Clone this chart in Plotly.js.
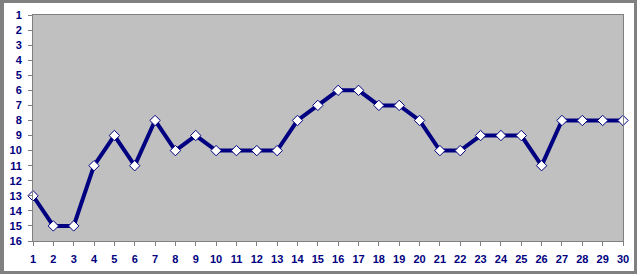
<!DOCTYPE html>
<html>
<head>
<meta charset="utf-8">
<script src="https://cdn.plot.ly/plotly-3.0.1.min.js"></script>
<style>
  html, body { margin: 0; padding: 0; background: #ffffff; }
  #wrap { position: relative; width: 640px; height: 276px; }
  #chart { position: absolute; left: 0; top: 0; width: 640px; height: 276px; }
  #frame { position: absolute; left: 0; top: 0; width: 637px; height: 274px;
           box-sizing: border-box; border: 3px solid #808080; border-left-width: 4px;
           pointer-events: none; }
</style>
</head>
<body>
<div id="wrap">
  <div id="chart"></div>
  <div id="frame"></div>
</div>
<script>
const positions = [1,2,3,4,5,6,7,8,9,10,11,12,13,14,15,16,17,18,19,20,21,22,23,24,25,26,27,28,29,30];
const ranks = [13,15,15,11,9,11,8,10,9,10,10,10,10,8,7,6,6,7,7,8,10,10,9,9,9,11,8,8,8,8];
const yTicks = [1,2,3,4,5,6,7,8,9,10,11,12,13,14,15,16];

const trace = {
  x: positions,
  y: ranks,
  type: 'scatter',
  mode: 'lines+markers',
  line: { color: '#000080', width: 4 },
  marker: { symbol: 'diamond', size: 8, color: '#ffffff', line: { color: '#000080', width: 1 } },
  cliponaxis: false,
  hoverinfo: 'skip'
};

const tickFont = { family: 'Arial, "Liberation Sans", sans-serif', size: 11, color: '#000080', weight: 'bold' };

const layout = {
  width: 640, height: 276,
  margin: { l: 33, r: 17, t: 15, b: 35 },
  paper_bgcolor: '#ffffff',
  plot_bgcolor: '#c0c0c0',
  showlegend: false,
  xaxis: {
    range: [1, 30],
    tickmode: 'array', tickvals: positions, ticktext: positions.map(String),
    ticks: 'outside', ticklen: 4, tickcolor: '#808080', tickwidth: 1,
    showline: true, linecolor: '#808080', linewidth: 1, mirror: true,
    showgrid: false, zeroline: false,
    tickfont: tickFont, ticklabelstandoff: 4
  },
  yaxis: {
    range: [16, 1],
    tickmode: 'array', tickvals: yTicks, ticktext: yTicks.map(String),
    ticks: 'outside', ticklen: 4, tickcolor: '#808080', tickwidth: 1,
    showline: true, linecolor: '#808080', linewidth: 1, mirror: true,
    showgrid: false, zeroline: false,
    tickfont: tickFont, ticklabelstandoff: 4
  }
};

Plotly.newPlot('chart', [trace], layout, { staticPlot: true, displayModeBar: false });
</script>
</body>
</html>
